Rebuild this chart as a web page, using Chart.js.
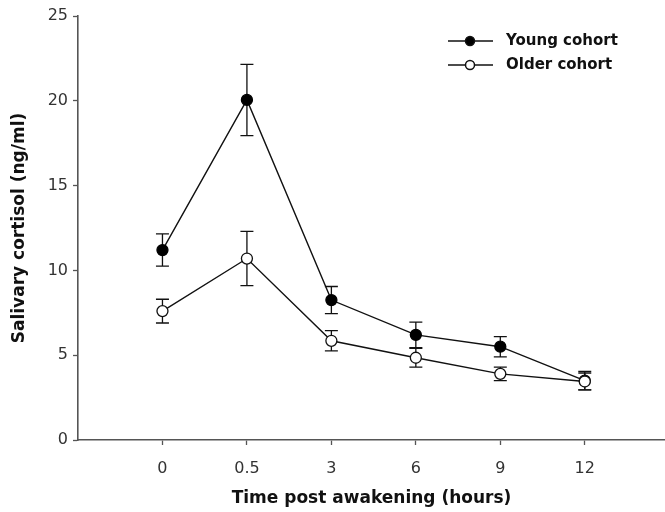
<!DOCTYPE html>
<html>
<head>
<meta charset="utf-8">
<script src="https://cdn.jsdelivr.net/npm/chart.js@4.4.1/dist/chart.umd.min.js"></script>
<style>
  html, body { margin: 0; padding: 0; background: #fff; }
  #wrap { width: 665px; height: 512px; }
</style>
</head>
<body>
<div id="wrap"><canvas id="chart"></canvas></div>
<script>
// ===== Salivary cortisol by time after waking =====

const categories = ['0', '0.5', '3', '6', '9', '12'];
const yTicks = [0, 5, 10, 15, 20, 25];

const youngMean = [11.2, 20.05, 8.25, 6.2, 5.5, 3.5];
const youngErr = [0.95, 2.1, 0.8, 0.75, 0.6, 0.55];
const olderMean = [7.6, 10.7, 5.85, 4.85, 3.9, 3.45];
const olderErr = [0.7, 1.6, 0.6, 0.55, 0.4, 0.5];

const AXIS_COLOR = '#555';
const TEXT_COLOR = '#333';
const FONT = '"DejaVu Sans", Verdana, sans-serif';

function toPoints(values) {
  return values.map((v, i) => ({ x: i, y: v }));
}

// error bars, drawn under the markers
const errorBars = {
  id: 'errorBars',
  beforeDatasetsDraw(chart) {
    const { ctx, scales: { x, y } } = chart;
    const sets = [[youngMean, youngErr], [olderMean, olderErr]];
    ctx.save();
    ctx.strokeStyle = '#111';
    ctx.lineWidth = 1.3;
    sets.forEach(([mean, err]) => {
      mean.forEach((m, i) => {
        const px = x.getPixelForValue(i);
        const top = y.getPixelForValue(m + err[i]);
        const bot = y.getPixelForValue(m - err[i]);
        ctx.beginPath();
        ctx.moveTo(px, top); ctx.lineTo(px, bot);
        ctx.moveTo(px - 6.5, top); ctx.lineTo(px + 6.5, top);
        ctx.moveTo(px - 6.5, bot); ctx.lineTo(px + 6.5, bot);
        ctx.stroke();
      });
    });
    ctx.restore();
  },
};

// legend with line-through-marker samples
const lineLegend = {
  id: 'lineLegend',
  afterDraw(chart) {
    const { ctx } = chart;
    const items = [
      { label: 'Young cohort', fill: '#000', y: 41 },
      { label: 'Older cohort', fill: '#fff', y: 65 },
    ];
    ctx.save();
    items.forEach((it) => {
      ctx.strokeStyle = '#111';
      ctx.lineWidth = 1.5;
      ctx.beginPath();
      ctx.moveTo(448, it.y); ctx.lineTo(493, it.y);
      ctx.stroke();
      ctx.beginPath();
      ctx.arc(470, it.y, 4.5, 0, Math.PI * 2);
      ctx.fillStyle = it.fill;
      ctx.fill();
      ctx.stroke();
      ctx.fillStyle = '#111';
      ctx.font = 'bold 15px ' + FONT;
      ctx.textBaseline = 'middle';
      ctx.fillText(it.label, 506, it.y);
    });
    ctx.restore();
  },
};

const chart = new Chart(document.getElementById('chart'), {
  type: 'line',
  data: {
    datasets: [
      {
        label: 'Young cohort',
        data: toPoints(youngMean),
        order: 1,
        borderColor: '#111',
        borderWidth: 1.4,
        pointRadius: 5.5,
        pointBackgroundColor: '#000',
        pointBorderColor: '#000',
        pointBorderWidth: 1.3,
        tension: 0,
      },
      {
        label: 'Older cohort',
        data: toPoints(olderMean),
        order: 0,
        borderColor: '#111',
        borderWidth: 1.4,
        pointRadius: 5.5,
        pointBackgroundColor: '#fff',
        pointBorderColor: '#111',
        pointBorderWidth: 1.3,
        tension: 0,
      },
    ],
  },
  plugins: [errorBars, lineLegend],
  options: {
    responsive: true,
    maintainAspectRatio: false,
    animation: false,
    layout: { autoPadding: false, padding: { top: 16, right: 0, left: 0, bottom: 0 } },
    plugins: {
      legend: { display: false },
      tooltip: { enabled: false },
    },
    scales: {
      x: {
        type: 'linear',
        min: -1,
        max: 5.95,
        afterBuildTicks: (s) => { s.ticks = categories.map((_, i) => ({ value: i })); },
        afterFit: (s) => { s.height = 72; s.paddingLeft = 0; s.paddingRight = 0; },
        border: { color: AXIS_COLOR, width: 1.6 },
        grid: { drawOnChartArea: false, drawTicks: true, tickLength: 5, color: AXIS_COLOR, tickWidth: 1.3 },
        ticks: {
          color: TEXT_COLOR,
          padding: 14,
          font: { family: FONT, size: 16 },
          callback: (v) => categories[v] ?? '',
        },
        title: {
          display: true,
          text: 'Time post awakening (hours)',
          color: '#111',
          font: { family: FONT, size: 17, weight: 'bold' },
          padding: { top: 4, bottom: 3 },
        },
      },
      y: {
        min: 0,
        max: 25,
        afterBuildTicks: (s) => { s.ticks = yTicks.map((v) => ({ value: v })); },
        afterFit: (s) => { s.width = 78; s.paddingTop = 0; s.paddingBottom = 0; },
        border: { color: AXIS_COLOR, width: 1.6 },
        grid: { drawOnChartArea: false, drawTicks: true, tickLength: 5, color: AXIS_COLOR, tickWidth: 1.3 },
        ticks: {
          color: TEXT_COLOR,
          padding: 5,
          font: { family: FONT, size: 16 },
        },
        title: {
          display: true,
          text: 'Salivary cortisol (ng/ml)',
          color: '#111',
          font: { family: FONT, size: 17, weight: 'bold' },
          padding: { top: 9, bottom: 0 },
        },
      },
    },
  },
});
</script>
</body>
</html>
